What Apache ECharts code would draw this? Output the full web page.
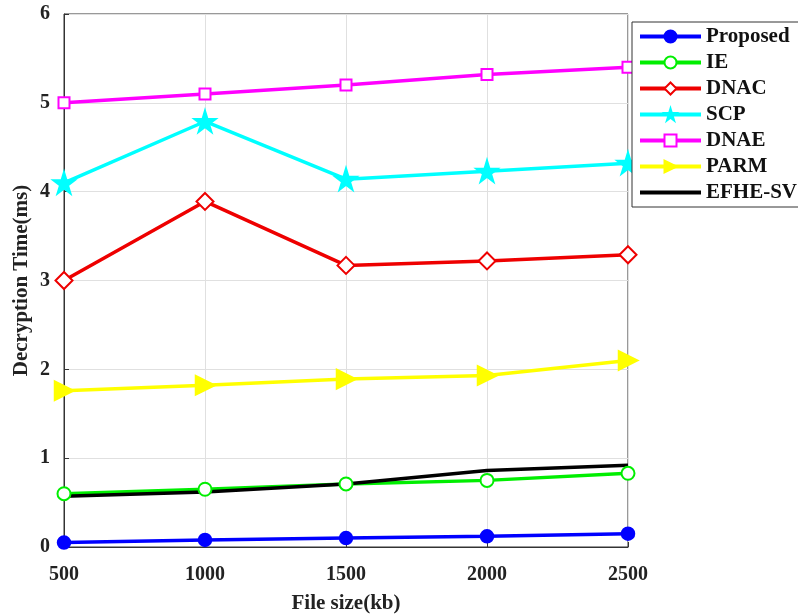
<!DOCTYPE html>
<html>
<head>
<meta charset="utf-8">
<script src="https://cdn.jsdelivr.net/npm/echarts@6/dist/echarts.min.js"></script>
<style>
html, body { margin: 0; padding: 0; background: #fff; }
#main { width: 798px; height: 615px; }
</style>
</head>
<body>
<div id="main"></div>
<script>
var fileSizes = [500, 1000, 1500, 2000, 2500];
var proposed = [0.05, 0.08, 0.10, 0.12, 0.15];
var ie = [0.60, 0.65, 0.71, 0.75, 0.83];
var dnac = [3.00, 3.89, 3.17, 3.22, 3.29];
var scp = [4.10, 4.79, 4.14, 4.23, 4.32];
var dnae = [5.00, 5.10, 5.20, 5.32, 5.40];
var parm = [1.76, 1.82, 1.89, 1.93, 2.10];
var efhe = [0.57, 0.62, 0.71, 0.86, 0.92];

var myChart = echarts.init(document.getElementById('main'));
var serifFont = '"Liberation Serif", "Times New Roman", serif';
var starPath = 'path://M50,0 L61,35 L98,35 L68,57 L79,91 L50,70 L21,91 L32,57 L2,35 L39,35 Z';

function pairs(vals) {
    return fileSizes.map(function (x, i) { return [x, vals[i]]; });
}

function makeSeries(name, vals, color, symbol, size, extra) {
    var s = {
        name: name,
        type: 'line',
        data: pairs(vals),
        symbol: symbol,
        symbolSize: size,
        lineStyle: { color: color, width: 3.5 },
        itemStyle: { color: color, borderColor: color, borderWidth: 2.5 },
        emphasis: { disabled: true },
        animation: false
    };
    if (extra) {
        for (var k in extra) s[k] = extra[k];
    }
    return s;
}

var option = {
    backgroundColor: '#fff',
    grid: {
        left: 64,
        right: 170,
        top: 14,
        bottom: 68,
        containLabel: false,
        outerBoundsMode: 'none',
        show: true,
        borderColor: '#333',
        borderWidth: 1
    },
    legend: {
        orient: 'vertical',
        left: 632,
        top: 22,
        padding: [4, 10, 4, 6],
        itemWidth: 61,
        itemHeight: 15,
        itemGap: 5,
        backgroundColor: '#fff',
        borderColor: '#333',
        borderWidth: 1,
        lineStyle: { width: 4 },
        textStyle: {
            fontFamily: serifFont,
            fontWeight: 'bold',
            fontSize: 21,
            color: '#111'
        },
        data: ['Proposed', 'IE', 'DNAC', 'SCP', 'DNAE', 'PARM',
            { name: 'EFHE-SV', itemStyle: { opacity: 0 } }]
    },
    xAxis: {
        type: 'value',
        min: 500,
        max: 2500,
        interval: 500,
        name: 'File size(kb)',
        nameLocation: 'middle',
        nameGap: 46,
        nameMoveOverlap: false,
        nameTextStyle: { fontFamily: serifFont, fontWeight: 'bold', fontSize: 21, color: '#222' },
        axisLine: { show: true, lineStyle: { color: '#333', width: 1 } },
        axisTick: { show: true, inside: true, length: 5, lineStyle: { color: '#333' } },
        axisLabel: {
            fontFamily: serifFont, fontWeight: 'bold', fontSize: 20, color: '#222', margin: 18,
            formatter: function (v) { return String(v); }
        },
        splitLine: { show: true, lineStyle: { color: '#e0e0e0', width: 1 } }
    },
    yAxis: {
        type: 'value',
        min: 0,
        max: 6,
        interval: 1,
        name: 'Decryption Time(ms)',
        nameLocation: 'middle',
        nameGap: 32,
        nameMoveOverlap: false,
        nameTextStyle: { fontFamily: serifFont, fontWeight: 'bold', fontSize: 21, color: '#222' },
        axisLine: { show: true, lineStyle: { color: '#333', width: 1 } },
        axisTick: { show: true, inside: true, length: 5, lineStyle: { color: '#333' } },
        axisLabel: { fontFamily: serifFont, fontWeight: 'bold', fontSize: 20, color: '#222', margin: 14 },
        splitLine: { show: true, lineStyle: { color: '#e0e0e0', width: 1 } }
    },
    series: [
        makeSeries('Proposed', proposed, '#0000ff', 'circle', 12),
        makeSeries('IE', ie, '#00ee00', 'emptyCircle', 13),
        makeSeries('DNAC', dnac, '#ee0000', 'emptyDiamond', 17),
        makeSeries('SCP', scp, '#00ffff', starPath, 20),
        makeSeries('DNAE', dnae, '#ff00ff', 'emptyRect', 11),
        makeSeries('PARM', parm, '#ffff00', 'triangle', 18, { symbolRotate: -90 }),
        makeSeries('EFHE-SV', efhe, '#000000', 'circle', 4, { showSymbol: false })
    ]
};
myChart.setOption(option);
</script>
</body>
</html>
